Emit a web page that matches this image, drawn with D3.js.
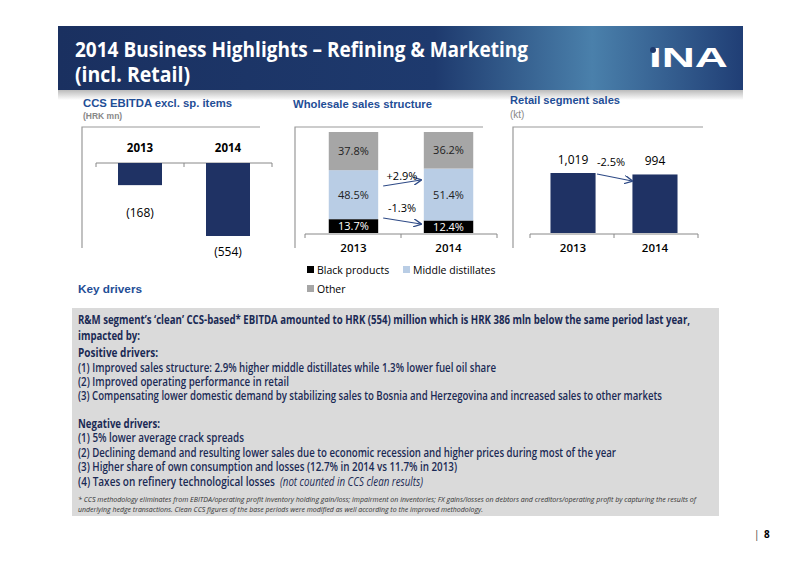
<!DOCTYPE html>
<html><head><meta charset="utf-8">
<script src="https://cdn.jsdelivr.net/npm/d3@7"></script>
<style>body{margin:0;background:#fff}svg{display:block}</style>
</head><body>
<svg id="slide" width="800" height="565"></svg>
<script>
// data
const years = ["2013", "2014"];
const ebitda = [-168, -554];
const ebitdaLabels = ["(168)", "(554)"];
const seriesNames = ["Black products", "Middle distillates", "Other"];
const blackProducts = [13.7, 12.4];
const middleDistillates = [48.5, 51.4];
const other = [37.8, 36.2];
const retail = [1019, 994];
const retailLabels = ["1,019", "994"];

const navy = "#1f3264", blue = "#1f4e96";
const narrow = "'Open Sans', sans-serif";
const arial = "'Liberation Sans', Arial, sans-serif";
const svg = d3.select("#slide");
const defs = svg.append("defs");

// header banner
const grad = defs.append("linearGradient").attr("id", "hdr");
grad.append("stop").attr("offset", "0").attr("stop-color", "#1a3060");
grad.append("stop").attr("offset", "0.55").attr("stop-color", "#1e3a6e");
grad.append("stop").attr("offset", "0.78").attr("stop-color", "#4a80ab");
grad.append("stop").attr("offset", "1").attr("stop-color", "#203e75");
const sh = defs.append("linearGradient").attr("id", "shadow").attr("x2", 0).attr("y2", 1);
sh.append("stop").attr("offset", "0").attr("stop-color", "#bbb");
sh.append("stop").attr("offset", "1").attr("stop-color", "#fff");
svg.append("rect").attr("x", 58).attr("y", 90).attr("width", 685).attr("height", 10).attr("fill", "url(#shadow)");
svg.append("rect").attr("x", 58).attr("y", 26).attr("width", 685).attr("height", 64).attr("fill", "url(#hdr)");
svg.append("text").attr("x", 75).attr("y", 57).attr("fill", "#fff").attr("font-family", narrow)
  .attr("font-weight", "bold").attr("font-size", 22).attr("textLength", 453).attr("lengthAdjust", "spacingAndGlyphs")
  .text("2014 Business Highlights – Refining & Marketing");
svg.append("text").attr("x", 75).attr("y", 82).attr("fill", "#fff").attr("font-family", narrow)
  .attr("font-weight", "bold").attr("font-size", 22).attr("textLength", 115).attr("lengthAdjust", "spacingAndGlyphs")
  .text("(incl. Retail)");
svg.append("text").attr("x", 649).attr("y", 67).attr("fill", "#fff")
  .attr("font-family", arial).attr("font-weight", "bold").attr("font-size", 27)
  .attr("textLength", 79).attr("lengthAdjust", "spacingAndGlyphs").text("INA");
svg.append("circle").attr("cx", 653).attr("cy", 50).attr("r", 3).attr("fill", "#1e3a6e");

function titles(x, y, t, len, sub, subY) {
  svg.append("text").attr("x", x).attr("y", y).attr("fill", blue).attr("font-family", arial).attr("font-weight", "bold")
    .attr("font-size", 11.5).attr("textLength", len).attr("lengthAdjust", "spacingAndGlyphs").text(t);
  if (sub) svg.append("text").attr("x", x).attr("y", subY).attr("fill", "#888").attr("font-family", arial)
    .attr("font-size", sub === "(kt)" ? 10 : 8.5).attr("font-weight", sub === "(kt)" ? "normal" : "bold").text(sub);
}
function frame(x0, x1) {
  svg.append("path").attr("d", `M${x0},248V127H${x1}`).attr("fill", "none").attr("stroke", "#999").attr("stroke-width", 1.2);
}
function axisLine(x, y) {
  const g = svg.append("g").attr("transform", `translate(0,${y})`)
    .call(d3.axisBottom(x).tickSize(4).tickFormat(""));
  g.select(".domain").attr("stroke", "#888").attr("d", `M${x.range()[0]},4V0H${x.range()[1]}V4`);
  g.selectAll(".tick line").attr("stroke", "#888").attr("transform", `translate(${x.step() / 2},0)`);
  g.selectAll(".tick").filter((d, i) => i === years.length - 1).select("line").remove();
  return g;
}
const lbl = {"font-family": narrow, "font-size": 11.5, "text-anchor": "middle", fill: "#000"};
function txt(x, y, t, extra) {
  const e = svg.append("text").attr("x", x).attr("y", y).text(t);
  Object.entries(Object.assign({}, lbl, extra || {})).forEach(([k, v]) => e.attr(k, v));
  return e;
}

// chart 1: EBITDA
titles(83, 107, "CCS EBITDA excl. sp. items", 149, "(HRK mn)", 119);
frame(82, 260);
const x1 = d3.scaleBand().domain(years).range([96, 272]).paddingInner(0.5).paddingOuter(0.25);
const y1 = d3.scaleLinear().domain([-554, 0]).range([236, 163]);
axisLine(x1, 163);
svg.selectAll(".b1").data(ebitda).join("rect").attr("x", (d, i) => x1(years[i])).attr("width", x1.bandwidth())
  .attr("y", y1(0)).attr("height", d => y1(d) - y1(0)).attr("fill", navy);
years.forEach((yr, i) => txt(x1(yr) + x1.bandwidth() / 2, 152, yr, {"font-weight": "bold"}));
ebitda.forEach((d, i) => txt(x1(years[i]) + x1.bandwidth() / 2, y1(d) + (i ? 20 : 32), ebitdaLabels[i], {"font-size": 12}));

// chart 2: wholesale stacked
titles(293, 108, "Wholesale sales structure", 139);
frame(295, 483);
const x2 = d3.scaleBand().domain(years).range([305, 497]).paddingInner(0.48).paddingOuter(0.25);
const y2 = d3.scaleLinear().domain([0, 100]).range([233, 132]);
axisLine(x2, 234);
const rows = years.map((yr, i) => ({year: yr, "Black products": blackProducts[i], "Middle distillates": middleDistillates[i], Other: other[i]}));
const stack = d3.stack().keys(seriesNames)(rows);
const cols = {"Black products": "#000", "Middle distillates": "#b9cde5", Other: "#a6a6a6"};
const txtCols = {"Black products": "#fff", "Middle distillates": "#222", Other: "#222"};
stack.forEach(s => {
  s.forEach(d => {
    const yTop = y2(d[1]), yBot = y2(d[0]);
    svg.append("rect").attr("x", x2(d.data.year)).attr("width", x2.bandwidth()).attr("y", yTop)
      .attr("height", yBot - yTop).attr("fill", cols[s.key]);
    txt(x2(d.data.year) + x2.bandwidth() / 2, (yTop + yBot) / 2 + 4, d.data[s.key].toFixed(1) + "%",
      {fill: txtCols[s.key], "font-size": 11});
  });
});
years.forEach(yr => txt(x2(yr) + x2.bandwidth() / 2, 252, yr, {"font-weight": 600}));
defs.append("marker").attr("id", "arr").attr("viewBox", "0 0 10 10").attr("refX", 9).attr("refY", 5)
  .attr("markerWidth", 7).attr("markerHeight", 7).attr("orient", "auto")
  .append("path").attr("d", "M0,0L10,5L0,10").attr("fill", "none").attr("stroke", "#2e4a86").attr("stroke-width", 1.5);
function arrow(xa, ya, xb, yb) {
  svg.append("line").attr("x1", xa).attr("y1", ya).attr("x2", xb).attr("y2", yb)
    .attr("stroke", "#2e4a86").attr("stroke-width", 1.2).attr("marker-end", "url(#arr)");
}
const gapL = x2("2013") + x2.bandwidth() + 5, gapR = x2("2014") - 3;
arrow(gapL, 186, gapR, 180);
arrow(gapL, 218, gapR, 224);
txt((gapL + gapR) / 2, 180, "+2.9%", {"font-size": 11});
txt((gapL + gapR) / 2, 212, "-1.3%", {"font-size": 11});
// legend
[[seriesNames[0], 307, 274], [seriesNames[1], 403, 274], [seriesNames[2], 307, 293]].forEach(([n, x, y]) => {
  svg.append("rect").attr("x", x).attr("y", y - 8).attr("width", 7).attr("height", 7).attr("fill", cols[n]);
  txt(x + 10, y, n, {"text-anchor": "start", "font-size": 10.5});
});

// chart 3: retail
titles(510, 104, "Retail segment sales", 110, "(kt)", 118);
frame(513, 703);
const x3 = d3.scaleBand().domain(years).range([530, 698]).paddingInner(0.45).paddingOuter(0.25);
const y3 = d3.scaleLinear().domain([0, 1019]).range([233, 173]);
axisLine(x3, 234);
svg.selectAll(".b3").data(retail).join("rect").attr("x", (d, i) => x3(years[i])).attr("width", x3.bandwidth())
  .attr("y", d => y3(d)).attr("height", d => y3(0) - y3(d)).attr("fill", navy);
retail.forEach((d, i) => txt(x3(years[i]) + x3.bandwidth() / 2, y3(d) - 9, retailLabels[i], {"font-size": 12}));
years.forEach(yr => txt(x3(yr) + x3.bandwidth() / 2, 252, yr, {"font-weight": 600}));
txt(611, 166, "-2.5%", {"font-size": 11});
arrow(597, 174, 632, 181);

// key drivers
svg.append("text").attr("x", 78).attr("y", 293).attr("fill", blue).attr("font-family", arial).attr("font-weight", "bold")
  .attr("font-size", 11.5).attr("textLength", 64).attr("lengthAdjust", "spacingAndGlyphs").text("Key drivers");
svg.append("rect").attr("x", 72).attr("y", 308).attr("width", 647).attr("height", 208).attr("fill", "#dadada");
const lines = [
  [324, "R&M segment’s ‘clean’ CCS-based* EBITDA amounted to HRK (554) million which is HRK 386 mln below the same period last year,", "bold", 612],
  [340, "impacted by:", "bold", 62],
  [357, "Positive drivers:", "bold", 80],
  [372, "(1)  Improved sales structure: 2.9% higher middle distillates while 1.3% lower fuel oil share", "n", 418],
  [386, "(2)  Improved operating performance in retail", "n", 211],
  [400, "(3)  Compensating lower domestic demand by stabilizing sales to Bosnia and Herzegovina and increased sales to other markets", "n", 584],
  [428, "Negative drivers:", "bold", 82],
  [442, "(1)  5% lower average crack spreads", "n", 166],
  [457, "(2)  Declining demand and resulting lower sales due to economic recession and higher prices during most of the year", "n", 538],
  [471, "(3)  Higher share of own consumption and losses (12.7% in 2014 vs 11.7% in 2013)", "n", 379]
];
lines.forEach(([y, t, w, len]) => {
  svg.append("text").attr("x", 78).attr("y", y).attr("fill", "#1a2a55").attr("font-family", narrow)
    .attr("font-size", 12).attr("font-weight", w === "bold" ? "bold" : 600).text(t)
    .attr("textLength", len).attr("lengthAdjust", "spacingAndGlyphs");
});
svg.append("text").attr("x", 78).attr("y", 486).attr("fill", "#1a2a55").attr("font-family", narrow)
  .attr("font-size", 12).attr("font-weight", 600).attr("textLength", 197).attr("lengthAdjust", "spacingAndGlyphs")
  .text("(4)  Taxes on refinery technological losses");
svg.append("text").attr("x", 280).attr("y", 486).attr("fill", "#1a2a55").attr("font-family", narrow)
  .attr("font-size", 12).attr("font-style", "italic").attr("textLength", 143).attr("lengthAdjust", "spacingAndGlyphs")
  .text("(not counted in CCS clean results)");
svg.append("text").attr("x", 78).attr("y", 502).attr("fill", "#333").attr("font-family", narrow).attr("font-size", 7.5)
  .attr("font-style", "italic").attr("textLength", 618).attr("lengthAdjust", "spacingAndGlyphs")
  .text("* CCS methodology eliminates from EBITDA/operating profit inventory holding gain/loss; impairment on inventories; FX gains/losses on debtors and creditors/operating profit by capturing the results of");
svg.append("text").attr("x", 78).attr("y", 512).attr("fill", "#333").attr("font-family", narrow).attr("font-size", 7.5)
  .attr("font-style", "italic").attr("textLength", 405).attr("lengthAdjust", "spacingAndGlyphs")
  .text("underlying hedge transactions. Clean CCS figures of the base periods were modified as well according to the improved methodology.");
svg.append("text").attr("x", 754).attr("y", 538).attr("fill", "#333").attr("font-family", narrow).attr("font-size", 10).text("|");
svg.append("text").attr("x", 764).attr("y", 538).attr("fill", "#000").attr("font-family", narrow).attr("font-size", 10).attr("font-weight", "bold").text("8");
</script>
</body></html>
